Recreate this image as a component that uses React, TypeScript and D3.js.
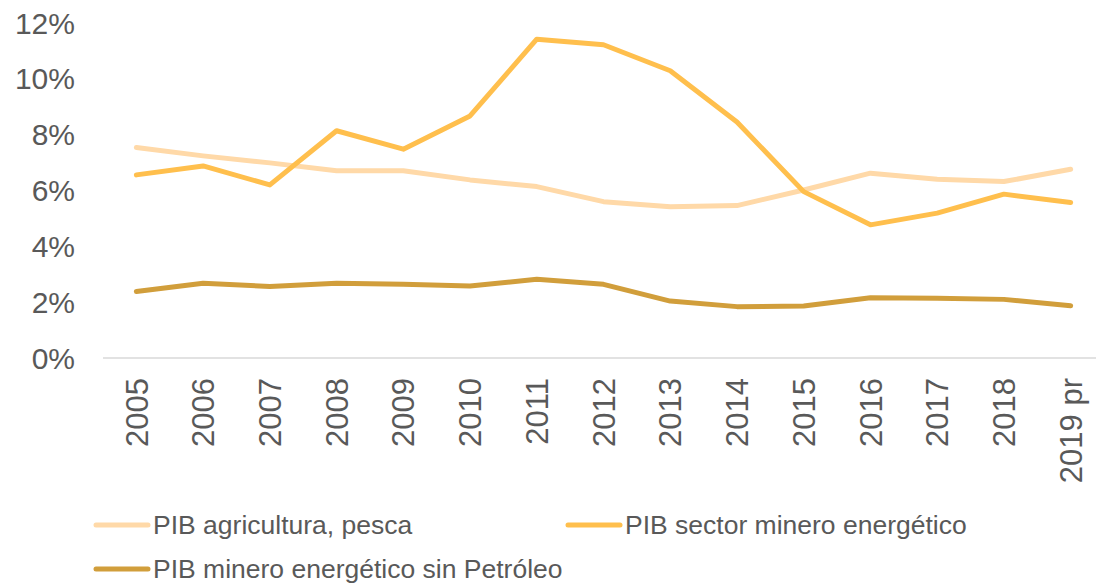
import React from 'react';
import * as d3 from 'd3';

const years = ['2005', '2006', '2007', '2008', '2009', '2010', '2011', '2012', '2013', '2014', '2015', '2016', '2017', '2018', '2019 pr'];
const agricultura = [7.54, 7.24, 6.99, 6.71, 6.71, 6.38, 6.14, 5.6, 5.42, 5.46, 6.02, 6.62, 6.4, 6.32, 6.76];
const mineroEnergetico = [6.56, 6.88, 6.2, 8.14, 7.48, 8.67, 11.42, 11.22, 10.29, 8.45, 5.96, 4.77, 5.19, 5.87, 5.57];
const sinPetroleo = [2.38, 2.68, 2.56, 2.68, 2.64, 2.58, 2.82, 2.64, 2.04, 1.84, 1.86, 2.16, 2.14, 2.1, 1.87];
const yTicks = [0, 2, 4, 6, 8, 10, 12];

const seriesNames = ['PIB agricultura, pesca', 'PIB sector minero energético', 'PIB minero energético sin Petróleo'];
const seriesColors = ['#FFD9A8', '#FFBF4D', '#D19E3B'];

const W = 1096;
const H = 585;
const font = '"Liberation Sans", Arial, sans-serif';
const textColor = '#595959';

const App = () => {
    const x = d3.scaleBand<string>()
        .domain(years)
        .range([103, 1104])
        .padding(0);

    const y = d3.scaleLinear()
        .domain([0, 12])
        .range([358, 23]);

    const line = d3.line<number>()
        .x((d, i) => (x(years[i]) as number) + x.bandwidth() / 2)
        .y(d => y(d));

    const series = [agricultura, mineroEnergetico, sinPetroleo];

    const legendItems = [
        { x: 96, y: 525 },
        { x: 568, y: 525 },
        { x: 96, y: 569 },
    ];

    return (
        <svg width={W} height={H} style={{ position: 'absolute', left: 0, top: 0, background: '#fff' }}>
            {/* y tick labels */}
            {yTicks.map(t => (
                <text key={t} x={75} y={y(t)} dy="0.35em" textAnchor="end"
                    fontFamily={font} fontSize={30} fill={textColor}>
                    {t}%
                </text>
            ))}

            {/* x axis line */}
            <line x1={103} x2={W} y1={y(0)} y2={y(0)} stroke="#D9D9D9" strokeWidth={1.5} />

            {/* x labels rotated */}
            {years.map(yr => {
                const cx = (x(yr) as number) + x.bandwidth() / 2;
                return (
                    <text key={yr} transform={`translate(${cx},378) rotate(-90)`} dy="0.36em"
                        textAnchor="end" fontFamily={font} fontSize={31} fill={textColor}>
                        {yr}
                    </text>
                );
            })}

            {/* lines */}
            {series.map((s, i) => (
                <path key={i} d={line(s) || ''} fill="none" stroke={seriesColors[i]}
                    strokeWidth={5} strokeLinejoin="round" strokeLinecap="round" />
            ))}

            {/* legend */}
            {legendItems.map((p, i) => (
                <g key={i}>
                    <line x1={p.x} x2={p.x + 52} y1={p.y} y2={p.y} stroke={seriesColors[i]}
                        strokeWidth={5} strokeLinecap="round" />
                    <text x={p.x + 57} y={p.y} dy="0.35em" fontFamily={font} fontSize={26.5} fill={textColor}>
                        {seriesNames[i]}
                    </text>
                </g>
            ))}
        </svg>
    );
};

export default App;
